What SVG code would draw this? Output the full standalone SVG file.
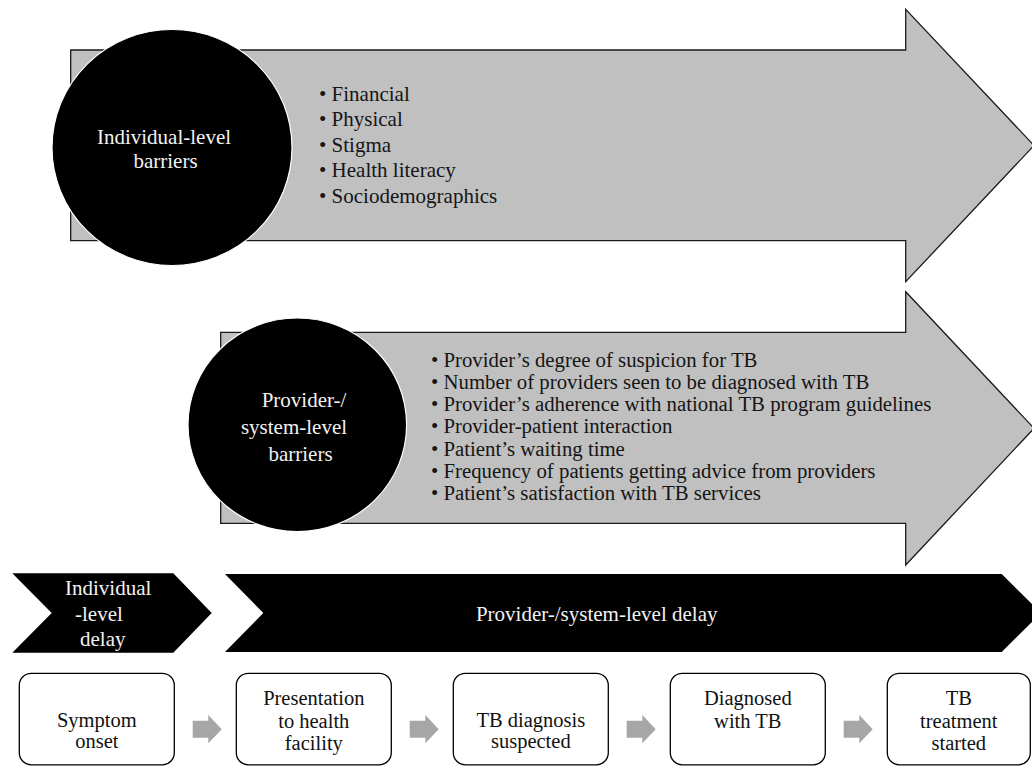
<svg xmlns="http://www.w3.org/2000/svg" width="1032" height="766" viewBox="0 0 1032 766" font-family="'Liberation Serif','Times New Roman',serif">
<style>
text{font-family:"Liberation Serif","Times New Roman",serif}
.band{fill:#c0c0c0;stroke:#1a1a1a;stroke-width:1.3}
.disc{fill:#000;stroke:#fff;stroke-width:1.2}
.wt{fill:#f2f2f2;font-size:21px}
.bl1{fill:#151515;font-size:21px}
.bl2{fill:#151515;font-size:20.8px}
.chev{fill:#000}
.box{fill:#fff;stroke:#000;stroke-width:1.3}
.bt{fill:#111;font-size:20.5px;text-anchor:middle}
.step{fill:#a6a6a6}
</style>
<rect width="1032" height="766" fill="#fff"/>

<g id="individual-barriers">
<polygon class="band" points="70.7,50 905.7,50 905.7,9.3 1034,145.5 905.7,281.7 905.7,240.7 70.7,240.7"/>
<ellipse class="disc" cx="172" cy="147.5" rx="120" ry="118"/>
<text class="wt" x="164" y="144" text-anchor="middle">Individual-level</text>
<text class="wt" x="165.5" y="168" text-anchor="middle">barriers</text>
<text class="bl1" x="319" y="100.5">• Financial</text>
<text class="bl1" x="319" y="126.1">• Physical</text>
<text class="bl1" x="319" y="151.7">• Stigma</text>
<text class="bl1" x="319" y="177.3">• Health literacy</text>
<text class="bl1" x="319" y="202.9">• Sociodemographics</text>
</g>

<g id="provider-barriers">
<polygon class="band" points="220.7,332.3 905.7,332.3 905.7,291.7 1034,428.3 905.7,565 905.7,523.3 220.7,523.3"/>
<ellipse class="disc" cx="297.3" cy="424.8" rx="109.3" ry="106.8"/>
<text class="wt" x="304" y="407" text-anchor="middle">Provider-/</text>
<text class="wt" x="294" y="434" text-anchor="middle">system-level</text>
<text class="wt" x="300.5" y="461" text-anchor="middle">barriers</text>
<text class="bl2" x="431" y="366.7">• Provider’s degree of suspicion for TB</text>
<text class="bl2" x="431" y="388.9">• Number of providers seen to be diagnosed with TB</text>
<text class="bl2" x="431" y="411.1">• Provider’s adherence with national TB program guidelines</text>
<text class="bl2" x="431" y="433.3">• Provider-patient interaction</text>
<text class="bl2" x="431" y="455.5">• Patient’s waiting time</text>
<text class="bl2" x="431" y="477.7">• Frequency of patients getting advice from providers</text>
<text class="bl2" x="431" y="499.9">• Patient’s satisfaction with TB services</text>
</g>

<g id="individual-delay">
<polygon class="chev" points="12.3,573.3 173.3,573.3 211.7,613 173.3,652.7 12.3,652.7 51.7,613"/>
<text class="wt" x="65" y="595">Individual</text>
<text class="wt" x="75" y="620.5">-level</text>
<text class="wt" x="80" y="646">delay</text>
</g>

<g id="provider-delay">
<polygon class="chev" points="225,574 1001.7,574 1041,613 1001.7,652 225,652 263.3,613"/>
<text class="wt" x="596.7" y="620.7" text-anchor="middle">Provider-/system-level delay</text>
</g>

<g id="step-symptom">
<rect class="box" x="19.3" y="673.3" width="155" height="91.5" rx="12"/>
<text class="bt" x="96.8" y="726.7">Symptom</text>
<text class="bt" x="96.8" y="748.3">onset</text>
</g>
<g id="step-presentation">
<rect class="box" x="236.3" y="673.3" width="155" height="91.5" rx="12"/>
<text class="bt" x="313.8" y="705">Presentation</text>
<text class="bt" x="313.8" y="727.5">to health</text>
<text class="bt" x="313.8" y="750">facility</text>
</g>
<g id="step-suspected">
<rect class="box" x="453.3" y="673.3" width="155" height="91.5" rx="12"/>
<text class="bt" x="530.8" y="726.7">TB diagnosis</text>
<text class="bt" x="530.8" y="748.3">suspected</text>
</g>
<g id="step-diagnosed">
<rect class="box" x="670.3" y="673.3" width="155" height="91.5" rx="12"/>
<text class="bt" x="747.8" y="705">Diagnosed</text>
<text class="bt" x="747.8" y="727.5">with TB</text>
</g>
<g id="step-treatment">
<rect class="box" x="887.3" y="673.3" width="143" height="91.5" rx="12"/>
<text class="bt" x="958.8" y="705">TB</text>
<text class="bt" x="958.8" y="727.5">treatment</text>
<text class="bt" x="958.8" y="750">started</text>
</g>

<g id="connectors">
<polygon class="step" points="192.7,720.7 208.3,720.7 208.3,715 221.7,729.2 208.3,743.3 208.3,737.7 192.7,737.7"/>
<polygon class="step" points="409.7,720.7 425.3,720.7 425.3,715 438.7,729.2 425.3,743.3 425.3,737.7 409.7,737.7"/>
<polygon class="step" points="626.7,720.7 642.3,720.7 642.3,715 655.7,729.2 642.3,743.3 642.3,737.7 626.7,737.7"/>
<polygon class="step" points="843.7,720.7 859.3,720.7 859.3,715 872.7,729.2 859.3,743.3 859.3,737.7 843.7,737.7"/>
</g>
</svg>
